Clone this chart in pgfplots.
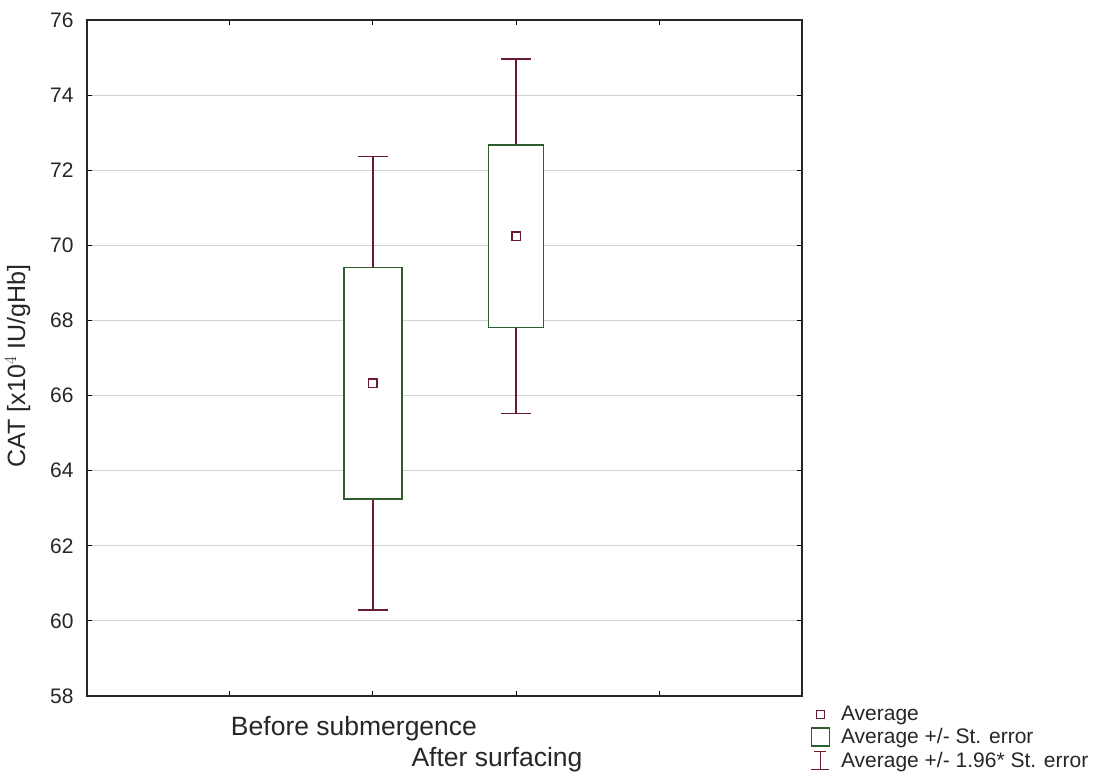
\documentclass[border=0pt]{standalone}
\usepackage{pgfplots}
\usepackage{pgfplotstable}
\pgfplotsset{compat=1.18}
\usepackage{fontspec}
\setmainfont{Liberation Sans}
\definecolor{boxgreen}{RGB}{45,95,45}
\definecolor{whiskred}{RGB}{105,28,48}
\definecolor{gridgray}{RGB}{210,210,210}
% x, mean, standard error, 1.96*standard error
\pgfplotstableread{
x   m      se    ci
2   66.33  3.08  6.04
3   70.24  2.43  4.72
}\cattable
\begin{document}
\begin{tikzpicture}
\useasboundingbox (-87bp,-80bp) rectangle (1013bp,696bp);
\begin{axis}[
  at={(0,0)}, anchor=south west,
  scale only axis, width=715bp, height=676bp,
  xmin=0, xmax=5, ymin=58, ymax=76,
  xtick={1,2,3,4}, xticklabels={,Before submergence,,},
  extra x ticks={3}, extra x tick labels={After surfacing},
  extra x tick style={xticklabel style={yshift=-31bp}},
  ytick={58,60,...,76},
  ymajorgrids, grid style={gridgray, line width=1bp},
  tick align=inside, major tick length=5bp,
  tick style={black, line width=1bp},
  axis line style={black!85, line width=1.5bp},
  /pgf/number format/assume math mode=true,
  yticklabel style={font=\fontsize{21bp}{24bp}\selectfont, text=black!85, xshift=-10bp},
  xticklabel style={font=\fontsize{26.5bp}{30bp}\selectfont, text=black!85, xshift=-19bp, yshift=-17bp},
  ylabel={CAT [x10$^{4}$ IU/gHb]},
  ylabel style={font=\fontsize{25bp}{28bp}\selectfont, text=black!85, at={(axis description cs:-0.097,0.488)}, anchor=center},
  legend style={at={(axis description cs:1.012,-0.012)}, anchor=north west, draw=none, fill=none,
    font=\fontsize{21bp}{24bp}\selectfont, text=black!85, row sep=2.5bp, inner sep=0pt},
  legend cell align=left,
  box/.style={boxgreen, fill=white, line width=1.7bp, mark=none, forget plot},
]
\addlegendimage{legend image code/.code={\draw[whiskred, line width=1.3bp] (5bp,-4bp) rectangle (13bp,4bp);}}
\addlegendentry{\hspace{9bp}Average}
\addlegendimage{legend image code/.code={\draw[boxgreen, line width=1.3bp] (0bp,-9bp) rectangle (18bp,9bp);}}
\addlegendentry{\hspace{9bp}Average +/- St. error}
\addlegendimage{legend image code/.code={\draw[whiskred, line width=1.3bp] (0bp,-9bp)--(18bp,-9bp) (9bp,-9bp)--(9bp,9bp) (3bp,9bp)--(15bp,9bp);}}
\addlegendentry{\hspace{9bp}Average +/- 1.96* St. error}

% whiskers: mean +/- 1.96 SE
\addplot[forget plot, draw=none, mark=none,
  error bars/.cd, y dir=both, y explicit, error mark=|,
  error bar style={whiskred, line width=1.6bp},
  error mark options={whiskred, line width=1.6bp, mark size=15bp}]
  table[x=x, y=m, y error=ci] {\cattable};
% boxes: mean +/- SE
\addplot[box] coordinates {(1.795,63.25) (2.205,63.25) (2.205,69.41) (1.795,69.41)} -- cycle;
\addplot[box] coordinates {(2.807,67.81) (3.193,67.81) (3.193,72.67) (2.807,72.67)} -- cycle;
% means
\addplot[forget plot, only marks, mark=square, mark size=4.3bp, draw=whiskred, mark options={line width=1.6bp}]
  table[x=x, y=m] {\cattable};
\end{axis}
\end{tikzpicture}
\end{document}
